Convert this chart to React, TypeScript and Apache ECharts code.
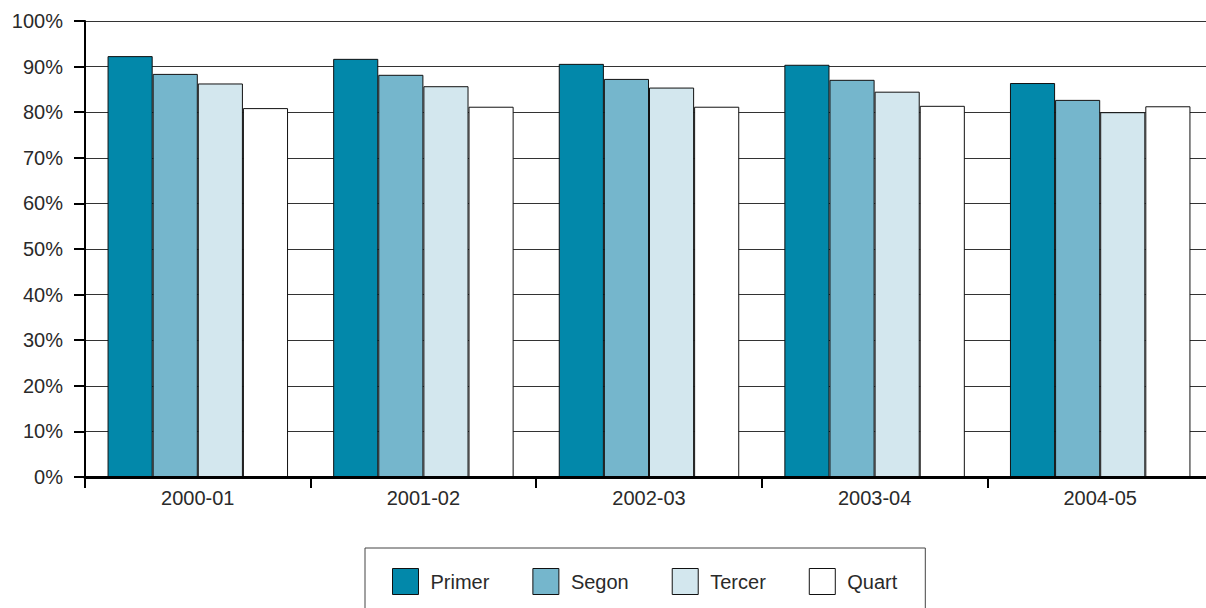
import React, { useEffect, useRef } from "react";
import * as echarts from "echarts";

const categories = ["2000-01", "2001-02", "2002-03", "2003-04", "2004-05"];
const seriesNames = ["Primer", "Segon", "Tercer", "Quart"];
const primer = [92.3, 91.7, 90.6, 90.4, 86.4];
const segon = [88.4, 88.2, 87.3, 87.1, 82.7];
const tercer = [86.3, 85.7, 85.4, 84.5, 80.0];
const quart = [80.9, 81.2, 81.2, 81.4, 81.3];
const colors = ["#0288aa", "#75b6cc", "#d3e7ee", "#ffffff"];
const yTicks = { min: 0, max: 100, interval: 10 };

const FONT = "'Liberation Sans', Arial, Helvetica, sans-serif";
const TEXT_COLOR = "#2a2a2a";

export default function App() {
  const ref = useRef<HTMLDivElement>(null);
  useEffect(() => {
    if (!ref.current) return;
    const chart = echarts.init(ref.current, undefined, { renderer: "svg" });
    const data = [primer, segon, tercer, quart];
    chart.setOption({
      animation: false,
      backgroundColor: "#ffffff",
      grid: {
        left: 85,
        top: 21,
        height: 456,
        width: 1128,
        containLabel: false,
        outerBoundsMode: "none",
      },
      legend: {
        left: 365,
        top: 548,
        padding: [20, 28, 20, 27],
        borderColor: "#444",
        borderWidth: 1,
        itemGap: 43,
        itemWidth: 26,
        itemHeight: 26,
        icon: "rect",
        data: seriesNames,
        itemStyle: { borderColor: "#111", borderWidth: 1 },
        textStyle: { fontFamily: FONT, fontSize: 20, color: TEXT_COLOR, padding: [0, 0, 0, 7] },
      },
      xAxis: {
        type: "category",
        data: categories,
        z: 10,
        axisLine: { show: true, lineStyle: { color: "#000", width: 3 } },
        axisTick: { show: true, length: 11, lineStyle: { color: "#000", width: 2 } },
        axisLabel: { fontFamily: FONT, fontSize: 20, color: TEXT_COLOR, margin: 11 },
        splitLine: { show: false },
      },
      yAxis: [
        {
          type: "value",
          min: yTicks.min,
          max: yTicks.max,
          interval: yTicks.interval,
          axisLine: { show: false },
          axisTick: { show: false },
          axisLabel: { show: false },
          splitLine: { show: true, lineStyle: { color: "#333", width: 1 } },
        },
        {
          type: "value",
          position: "left",
          z: 10,
          min: yTicks.min,
          max: yTicks.max,
          interval: yTicks.interval,
          axisLine: { show: true, lineStyle: { color: "#000", width: 2 } },
          axisTick: { show: true, length: 11, lineStyle: { color: "#000", width: 2 } },
          axisLabel: {
            fontFamily: FONT,
            fontSize: 20,
            color: TEXT_COLOR,
            margin: 22,
            formatter: "{value}%",
          },
          splitLine: { show: false },
        },
      ],
      series: seriesNames.map((name, i) => ({
        name,
        type: "bar",
        yAxisIndex: 0,
        data: data[i],
        barGap: "0%",
        barCategoryGap: "20%",
        itemStyle: { color: colors[i], borderColor: "#111", borderWidth: 1 },
      })),
    });
    return () => chart.dispose();
  }, []);
  return (
    <div
      ref={ref}
      style={{ position: "absolute", left: 0, top: 0, width: 1206, height: 608 }}
    />
  );
}
